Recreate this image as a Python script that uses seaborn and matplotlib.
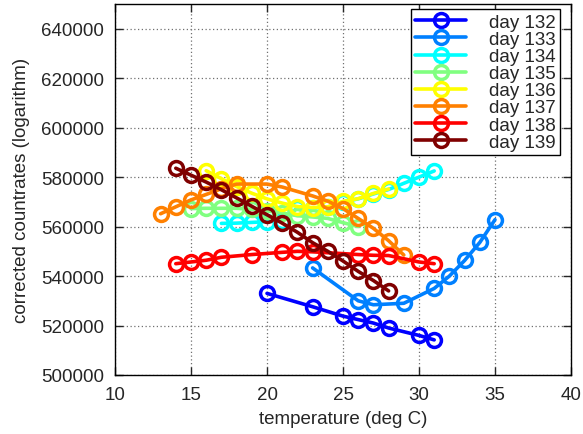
import matplotlib
matplotlib.use("Agg")
import matplotlib.pyplot as plt
import seaborn as sns
import pandas as pd

days = ["day 132", "day 133", "day 134", "day 135", "day 136", "day 137", "day 138", "day 139"]
colors = ["#0000ff", "#0080ff", "#00ffff", "#80ff80", "#ffff00", "#ff8000", "#ff0000", "#800000"]

t132 = [20, 23, 25, 26, 27, 28, 30, 31]
c132 = [533000, 527600, 523800, 522400, 521000, 519000, 516000, 514200]

t133 = [23, 26, 27, 29, 31, 32, 33, 34, 35]
c133 = [543300, 530000, 528400, 529000, 535000, 540000, 546300, 553600, 562800]

t134 = [17, 18, 19, 20, 21, 22, 23, 24, 25, 26, 27, 28, 29, 30, 31]
c134 = [561300, 561400, 561700, 562000, 562200, 567600, 567500, 567900, 570000,
        571200, 573200, 575000, 577500, 580000, 582500]

t135 = [15, 16, 17, 18, 19, 20, 21, 22, 23, 24, 25, 26]
c135 = [567300, 567400, 567400, 567400, 567000, 566300, 565500, 564400, 563900,
        563300, 561600, 560000]

t136 = [16, 17, 18, 19, 20, 21, 22, 23, 24, 25, 26, 27, 28]
c136 = [582600, 579400, 576200, 573500, 571200, 569500, 568100, 567700, 568000,
        570200, 571300, 573400, 575200]

t137 = [13, 14, 15, 16, 17, 18, 20, 21, 23, 24, 25, 26, 27, 28, 29]
c137 = [565200, 568000, 570800, 573000, 575300, 577200, 577200, 576000, 572400,
        570300, 567300, 563300, 559300, 554300, 548500]

t138 = [14, 15, 16, 17, 19, 21, 22, 23, 26, 27, 28, 30, 31]
c138 = [545000, 545700, 546400, 547600, 548700, 549600, 550000, 549800, 548700,
        548400, 548300, 545700, 545000]

t139 = [14, 15, 16, 17, 18, 19, 20, 21, 22, 23, 24, 25, 26, 27, 28]
c139 = [583600, 580800, 578000, 574900, 571600, 568200, 564800, 561400, 557700,
        553500, 550000, 546100, 541900, 538200, 534000]

temps = [t132, t133, t134, t135, t136, t137, t138, t139]
counts = [c132, c133, c134, c135, c136, c137, c138, c139]

xticks = [10, 15, 20, 25, 30, 35, 40]
yticks = [500000, 520000, 540000, 560000, 580000, 600000, 620000, 640000]

frames = []
for d, t, c in zip(days, temps, counts):
    frames.append(pd.DataFrame({"day": d, "temperature": t, "countrate": c}))
df = pd.concat(frames, ignore_index=True)

sns.set_style("ticks")
plt.rcParams["font.family"] = ["Liberation Sans", "DejaVu Sans"]

FS = 13.5

fig = plt.figure(figsize=(5.83, 4.35), dpi=100)
ax = fig.add_axes([115 / 583, 1 - 376 / 435, (571 - 115) / 583, (376 - 5) / 435])

for d, col in zip(days, colors):
    sub = df[df["day"] == d]
    sns.lineplot(data=sub, x="temperature", y="countrate", ax=ax, color=col,
                 marker="o", markersize=10, markerfacecolor="none",
                 markeredgecolor=col, markeredgewidth=2.5, linewidth=2.6,
                 label=d, sort=False, estimator=None)

ax.set_xlim(10, 40)
ax.set_ylim(500000, 650000)
ax.set_xticks(xticks)
ax.set_yticks(yticks)
ax.set_xticklabels([str(v) for v in xticks], fontsize=FS)
ax.set_yticklabels([str(v) for v in yticks], fontsize=FS)
ax.tick_params(direction="in", top=True, right=True, length=6, width=1, pad=8)
ax.grid(True, linestyle=(0, (1, 2)), color="#707070", linewidth=0.9)
for s in ax.spines.values():
    s.set_linewidth(1.0)
    s.set_color("black")
ax.set_xlabel("temperature (deg C)", fontsize=FS, labelpad=5)
ax.set_ylabel("corrected countrates (logarithm)", fontsize=FS, labelpad=8)

leg = ax.legend(loc="upper right", bbox_to_anchor=(560 / 583, 1 - 10 / 435),
                bbox_transform=fig.transFigure, fontsize=13.5, handlelength=2.7,
                labelspacing=0.0, borderaxespad=0, borderpad=0.25,
                handletextpad=1.2, fancybox=False, framealpha=1)
leg.get_frame().set_edgecolor("black")
leg.get_frame().set_linewidth(1.0)

fig.savefig("out.png", dpi=100)
